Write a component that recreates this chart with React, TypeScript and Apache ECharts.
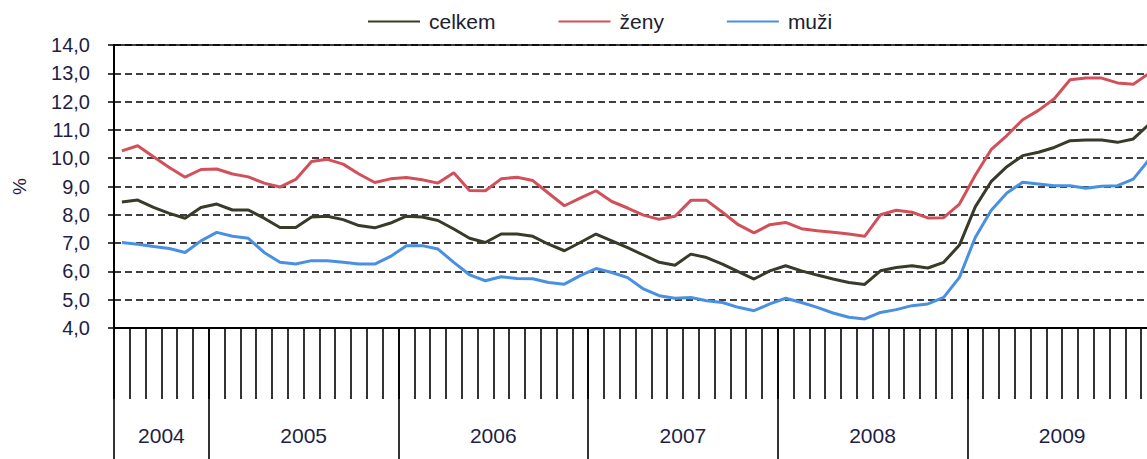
import React, { useEffect, useRef } from 'react';
import * as echarts from 'echarts';

const years = ['2004', '2005', '2006', '2007', '2008', '2009'];
const monthsPerYear = [6, 12, 12, 12, 12, 12];
const monthNames = ['I', 'II', 'III', 'IV', 'V', 'VI', 'VII', 'VIII', 'IX', 'X', 'XI', 'XII'];
const seriesNames = ['celkem', 'ženy', 'muži'];

const celkem = [
  8.45, 8.52, 8.26, 8.05, 7.88, 8.26,
  8.38, 8.17, 8.17, 7.88, 7.55, 7.55, 7.92, 7.95, 7.83, 7.62, 7.54, 7.71,
  7.95, 7.92, 7.8, 7.5, 7.17, 7.02, 7.32, 7.32, 7.24, 6.96, 6.73, 7.02,
  7.32, 7.08, 6.84, 6.58, 6.32, 6.22, 6.61, 6.49, 6.26, 5.99, 5.73, 6.02,
  6.2, 6.02, 5.87, 5.73, 5.61, 5.54, 6.02, 6.14, 6.2, 6.12, 6.32, 6.93,
  8.28, 9.17, 9.7, 10.09, 10.21, 10.38, 10.62, 10.64, 10.64, 10.56, 10.68, 11.2,
];
const zeny = [
  10.26, 10.44, 10.05, 9.67, 9.33, 9.6,
  9.62, 9.44, 9.34, 9.12, 8.98, 9.25, 9.88, 9.96, 9.79, 9.44, 9.14, 9.27,
  9.32, 9.24, 9.12, 9.49, 8.86, 8.85, 9.27, 9.33, 9.21, 8.76, 8.32, 8.59,
  8.85, 8.47, 8.24, 7.99, 7.84, 7.95, 8.51, 8.51, 8.09, 7.65, 7.36, 7.65,
  7.73, 7.51, 7.44, 7.38, 7.32, 7.24, 8.0, 8.16, 8.09, 7.89, 7.9, 8.38,
  9.4, 10.3, 10.8, 11.36, 11.69, 12.1, 12.77, 12.83, 12.83, 12.66, 12.61, 13.0,
];
const muzi = [
  7.02, 6.96, 6.88, 6.81, 6.67, 7.08,
  7.38, 7.24, 7.17, 6.67, 6.32, 6.26, 6.38, 6.38, 6.32, 6.26, 6.26, 6.53,
  6.91, 6.91, 6.79, 6.32, 5.88, 5.67, 5.81, 5.75, 5.74, 5.61, 5.55, 5.85,
  6.1, 5.96, 5.78, 5.38, 5.14, 5.05, 5.08, 4.96, 4.9, 4.73, 4.61, 4.85,
  5.05, 4.9, 4.73, 4.53, 4.38, 4.32, 4.55, 4.65, 4.79, 4.85, 5.08, 5.79,
  7.2, 8.15, 8.77, 9.15, 9.09, 9.03, 9.03, 8.94, 9.01, 9.03, 9.26, 9.95,
];

const yMin = 4;
const yMax = 14;
const yStep = 1;

const colors = ['#3a3a28', '#d2505a', '#4a90e2'];
const textColor = '#1e1e46';
const font = '"Liberation Sans", Arial, sans-serif';

export default function App() {
  const ref = useRef<HTMLDivElement>(null);

  useEffect(() => {
    document.body.style.margin = '0';
    const chart = echarts.init(ref.current!, null, { renderer: 'svg' });

    const categories: string[] = [];
    years.forEach((y, k) => {
      const n = monthsPerYear[k];
      for (let m = 12 - n; m < 12; m++) categories.push(monthNames[m] + ' ' + y);
    });

    const boundaryTicks = new Set<number>([0]);
    const yearLabelAt = new Map<number, string>();
    let acc = 0;
    years.forEach((y, k) => {
      yearLabelAt.set(acc + monthsPerYear[k] / 2, y);
      acc += monthsPerYear[k];
      boundaryTicks.add(acc);
    });
    const boundaries = Array.from({ length: acc + 1 }, (_, i) => 'b' + i);

    const values = [celkem, zeny, muzi];

    chart.setOption({
      animation: false,
      backgroundColor: '#ffffff',
      textStyle: { fontFamily: font },
      legend: {
        left: 363,
        top: 6,
        icon: 'rect',
        itemWidth: 52,
        itemHeight: 2,
        itemGap: 63,
        textStyle: { fontSize: 21, color: '#20202e', fontFamily: font, padding: [0, 0, 0, 4] },
        data: seriesNames,
      },
      grid: { left: 114, top: 45, right: 8, bottom: 131, containLabel: false },
      xAxis: [
        {
          type: 'category',
          data: categories,
          boundaryGap: true,
          position: 'bottom',
          axisLine: { show: true, lineStyle: { color: '#000', width: 2 } },
          axisTick: { show: true, length: 71, interval: 0, lineStyle: { color: '#000', width: 1.6 } },
          axisLabel: { show: false },
          splitLine: { show: false },
        },
        {
          type: 'category',
          data: boundaries,
          boundaryGap: false,
          position: 'bottom',
          axisLine: { show: false },
          axisTick: {
            show: true,
            length: 140,
            interval: (index: number) => boundaryTicks.has(index),
            lineStyle: { color: '#000', width: 1.6 },
          },
          axisLabel: {
            show: true,
            interval: (index: number) => yearLabelAt.has(index),
            formatter: (_v: string, index: number) => yearLabelAt.get(index) ?? '',
            margin: 97,
            fontSize: 21,
            color: textColor,
            fontFamily: font,
          },
          splitLine: { show: false },
        },
        {
          type: 'category',
          data: categories,
          boundaryGap: true,
          position: 'top',
          axisLine: { show: true, lineStyle: { color: '#000', width: 1.6 } },
          axisTick: { show: false },
          axisLabel: { show: false },
          splitLine: { show: false },
        },
      ],
      yAxis: {
        type: 'value',
        min: yMin,
        max: yMax,
        interval: yStep,
        name: '%',
        nameLocation: 'middle',
        nameRotate: 90,
        nameGap: 85,
        nameTextStyle: { fontSize: 19, color: textColor, fontFamily: font },
        axisLine: { show: true, lineStyle: { color: '#000', width: 2 } },
        axisTick: { show: true, length: 6, lineStyle: { color: '#000', width: 1.5 } },
        axisLabel: {
          margin: 24,
          fontSize: 20,
          color: textColor,
          fontFamily: font,
          formatter: (v: number) => v.toFixed(1).replace('.', ','),
        },
        splitLine: { show: true, lineStyle: { color: '#000', width: 1.5, type: [7, 4] } },
      },
      series: seriesNames.map((name, k) => ({
        name,
        type: 'line',
        xAxisIndex: 0,
        data: values[k],
        showSymbol: false,
        symbol: 'none',
        smooth: false,
        lineStyle: { color: colors[k], width: 3 },
        itemStyle: { color: colors[k] },
        z: 3,
      })),
    });

    return () => chart.dispose();
  }, []);

  return (
    <div style={{ width: 1147, height: 459, overflow: 'hidden' }}>
      <div ref={ref} style={{ width: 1165, height: 459 }} />
    </div>
  );
}
